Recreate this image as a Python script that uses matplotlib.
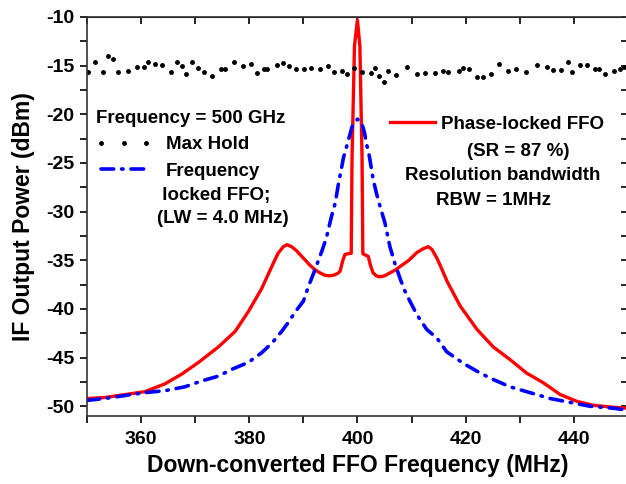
import matplotlib
matplotlib.use('Agg')
import matplotlib.pyplot as plt
from matplotlib.ticker import MultipleLocator

# Max Hold trace (dotted)
hold_f = [350.1, 351.5, 353.0, 353.8, 354.8, 355.8, 357.6, 359.2, 360.6, 361.3,
          362.6, 363.9, 365.5, 366.6, 367.5, 368.3, 369.5, 370.6, 371.6, 373.2,
          374.8, 375.6, 377.1, 378.9, 380.3, 381.5, 382.8, 383.3, 385.1, 386.2,
          387.4, 388.6, 390.1, 391.5, 393.0, 394.6, 395.7, 397.1, 398.1, 399.4,
          400.8, 402.5, 403.3, 403.9, 404.9, 405.7, 407.1, 409.2, 411.1, 412.5,
          414.3, 415.9, 416.8, 418.8, 419.6, 420.6, 422.1, 423.3, 424.7, 426.2,
          427.9, 429.3, 431.2, 433.2, 435.0, 436.2, 437.6, 438.9, 439.7, 441.2,
          442.4, 443.9, 444.6, 445.8, 447.5, 448.6, 449.2]
hold_p = [-15.68, -14.59, -15.61, -13.97, -14.31, -15.61, -15.54, -15.17, -15.10, -14.65,
          -14.86, -14.93, -15.68, -14.65, -15.03, -15.85, -14.65, -15.27, -15.61, -16.03,
          -15.34, -15.34, -14.59, -15.00, -14.86, -15.78, -15.37, -15.37, -14.93, -14.69,
          -15.00, -15.37, -15.34, -15.27, -15.34, -15.03, -15.68, -15.51, -15.89, -15.20,
          -15.68, -15.78, -15.20, -16.03, -16.64, -15.54, -15.95, -15.10, -15.89, -15.78,
          -15.72, -15.54, -15.61, -15.54, -15.20, -15.37, -16.19, -16.19, -15.89, -14.83,
          -15.51, -15.37, -15.61, -14.93, -15.10, -15.44, -15.44, -14.59, -15.68, -14.93,
          -14.93, -15.34, -15.34, -15.85, -15.51, -15.37, -15.10]

# Frequency locked FFO (dash-dot)
blue_f = [350, 353.3, 357.0, 360.7, 364.4, 368.1, 371.2, 374.3, 376.8, 379.8,
          382.3, 384.2, 386.0, 387.2, 388.5, 390.0, 391.0, 392.2, 393.4, 394.3,
          395.2, 395.9, 396.5, 397.1, 397.4, 398.0, 398.6, 399.1, 400.0, 400.8,
          401.3, 401.7, 402.2, 402.9, 403.6, 404.2, 405.1, 406.0, 406.9, 407.9,
          408.8, 409.7, 411.0, 412.8, 414.7, 416.5, 419.6, 422.1, 424.5, 428.2,
          431.9, 435.6, 439.3, 443.0, 447.3, 450]
blue_p = [-49.4, -49.2, -48.9, -48.6, -48.4, -48.0, -47.4, -46.9, -46.2, -45.5,
          -44.5, -43.5, -42.3, -41.4, -40.3, -39.2, -37.6, -35.9, -34.1, -32.6,
          -30.5, -29.1, -27.1, -25.4, -24.5, -23.3, -22.1, -21.1, -20.5, -20.9,
          -21.9, -23.1, -24.3, -26.7, -28.3, -29.5, -31.2, -33.6, -35.3, -36.9,
          -38.2, -39.2, -40.6, -42.1, -43.0, -44.4, -45.6, -46.4, -47.1, -48.0,
          -48.6, -49.2, -49.6, -50.0, -50.2, -50.4]

# Phase-locked FFO (solid)
red_f = [350, 353.3, 357.0, 360.7, 364.4, 367.5, 370.6, 374.3, 377.4, 379.8,
         382.3, 384.2, 385.3, 386.3, 387.0, 387.8, 388.7, 389.7, 391.2, 392.2,
         393.1, 394.0, 394.9, 395.8, 396.5, 396.8, 397.3, 397.7, 398.5, 398.85,
         399.0, 399.45, 400.0, 400.45, 400.85, 401.0, 401.2, 402.0, 402.4, 402.9,
         403.5, 404.2, 405.0, 406.0, 407.0, 408.0, 409.5, 411.0, 412.2, 413.1,
         413.8, 414.7, 415.6, 416.6, 419.0, 422.1, 425.1, 428.2, 431.3, 434.4,
         437.5, 440.6, 443.6, 447.3, 450]
red_p = [-49.2, -49.1, -48.8, -48.5, -47.7, -46.7, -45.5, -43.9, -42.3, -40.3,
         -37.9, -35.6, -34.3, -33.6, -33.4, -33.6, -34.0, -34.6, -35.5, -36.0,
         -36.3, -36.55, -36.6, -36.5, -36.3, -36.1, -35.0, -34.4, -34.3, -34.3,
         -24.5, -13.0, -10.3, -13.0, -24.5, -34.3, -34.4, -34.6, -35.5, -36.3,
         -36.6, -36.7, -36.6, -36.3, -36.0, -35.6, -35.0, -34.2, -33.8, -33.6,
         -33.9, -34.8, -35.9, -37.2, -39.7, -42.1, -43.9, -45.2, -46.6, -47.6,
         -48.8, -49.5, -49.9, -50.1, -50.2]

plt.rcParams['font.family'] = ['Liberation Sans', 'DejaVu Sans']
plt.rcParams['font.weight'] = 'bold'
plt.rcParams['axes.labelweight'] = 'bold'
plt.rcParams['axes.unicode_minus'] = False

fig = plt.figure(figsize=(6.26, 4.84), dpi=100)
ax = fig.add_axes([0.139, 0.1405, 0.864, 0.8245])

red_line, = ax.plot(red_f, red_p, color='#ff0000', lw=2.4, label='Phase-locked FFO')
blue_line, = ax.plot(blue_f, blue_p, color='#0000ff', lw=2.6, dashes=(3.5, 2.2, 0.4, 2.2),
                     dash_capstyle='round', label='Frequency')
hold_line, = ax.plot(hold_f, hold_p, ls='none', marker='o', ms=2.5, color='black', label='Max Hold')

ax.set_xlim(350, 450)
ax.set_ylim(-51, -10)
ax.xaxis.set_major_locator(MultipleLocator(20))
ax.xaxis.set_minor_locator(MultipleLocator(10))
ax.yaxis.set_major_locator(MultipleLocator(5))
ax.yaxis.set_minor_locator(MultipleLocator(2.5))
ax.tick_params(which='both', direction='out', length=5, width=1.2, top=False, right=False,
               labelsize=14)
ax.tick_params(axis='x', pad=6)
ax.tick_params(axis='y', pad=4)
for s in ax.spines.values():
    s.set_linewidth(1.2)
    s.set_color('#333333')

# top and right ticks point inward
top = ax.secondary_xaxis('top')
top.xaxis.set_major_locator(MultipleLocator(20))
top.xaxis.set_minor_locator(MultipleLocator(10))
top.tick_params(axis='x', which='both', direction='in', length=5, width=1.2, labeltop=False)
right = ax.secondary_yaxis('right')
right.yaxis.set_major_locator(MultipleLocator(5))
right.yaxis.set_minor_locator(MultipleLocator(2.5))
right.tick_params(axis='y', which='both', direction='in', length=5, width=1.2, labelright=False)

ax.set_xlabel('Down-converted FFO Frequency (MHz)', fontsize=16.5, labelpad=4)
ax.set_ylabel('IF Output Power (dBm)', fontsize=16.5, labelpad=8)

leg1 = ax.legend(handles=[hold_line, blue_line], title='Frequency = 500 GHz', loc='upper left',
                 bbox_to_anchor=(0.016, 0.767), frameon=False, fontsize=13.5, title_fontsize=13.5,
                 handlelength=3.0, handletextpad=0.75, numpoints=3, labelspacing=0.5,
                 borderpad=0, borderaxespad=0, alignment='left')
ax.add_artist(leg1)
ax.text(0.129, 0.553, ' locked FFO;', transform=ax.transAxes, fontsize=13.5, va='center')
ax.text(0.129, 0.496, '(LW = 4.0 MHz)', transform=ax.transAxes, fontsize=13.5, va='center')

ax.legend(handles=[red_line], loc='upper left', bbox_to_anchor=(0.56, 0.752), frameon=False,
          fontsize=13.5, handlelength=2.4, handletextpad=0.3, borderpad=0, borderaxespad=0)
ax.text(0.797, 0.662, '(SR = 87 %)', transform=ax.transAxes, fontsize=13.5, ha='center', va='center')
ax.text(0.769, 0.603, 'Resolution bandwidth', transform=ax.transAxes, fontsize=13.5, ha='center', va='center')
ax.text(0.752, 0.541, 'RBW = 1MHz', transform=ax.transAxes, fontsize=13.5, ha='center', va='center')

fig.savefig('out.png', dpi=100)
